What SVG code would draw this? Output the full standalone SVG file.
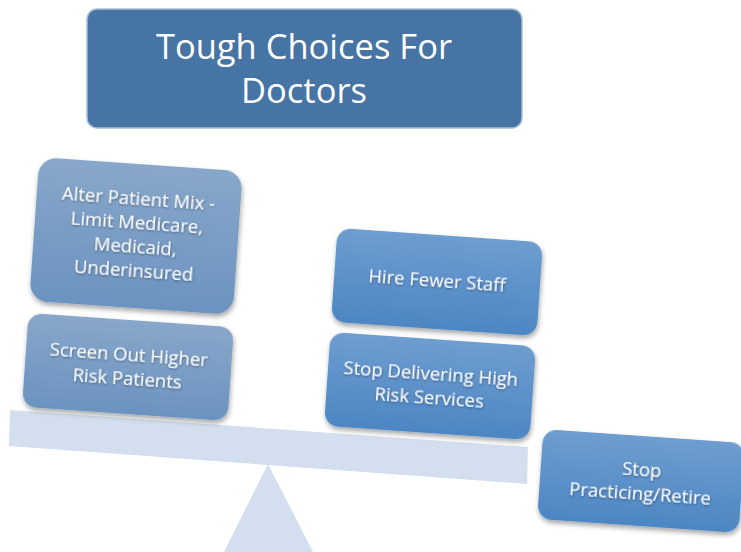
<svg xmlns="http://www.w3.org/2000/svg" width="741" height="552" viewBox="0 0 741 552">
<defs>
<linearGradient id="gL" x1="0" y1="0" x2="0" y2="1"><stop offset="0" stop-color="#88a7ca"/><stop offset="1" stop-color="#6b93bf"/></linearGradient>
<linearGradient id="gR" x1="0" y1="0" x2="0" y2="1"><stop offset="0" stop-color="#6e9dd0"/><stop offset="1" stop-color="#4d86c3"/></linearGradient>
<filter id="sh" x="-10%" y="-10%" width="125%" height="130%"><feDropShadow dx="1" dy="3" stdDeviation="2.5" flood-color="#000" flood-opacity="0.35"/></filter>
<filter id="ts" x="-5%" y="-20%" width="110%" height="150%"><feDropShadow dx="0.5" dy="1" stdDeviation="0.8" flood-color="#000" flood-opacity="0.45"/></filter>
</defs>
<style>
.t{font-family:"Open Sans","Liberation Sans",sans-serif;fill:#fff;text-anchor:middle}
.bt{font-size:18.5px}
.tt{font-size:34.5px}
.beam{fill:#d3dfee}
</style>
<rect width="741" height="552" fill="#fff"/>
<g id="base">
<polygon class="beam" points="268,464 313,552 224,552"/>
<polygon class="beam" points="10,410 528,447 527,484 9,446"/>
</g>
<g id="title">
<rect x="87" y="9" width="435" height="119" rx="10" fill="#4674a4" stroke="#a9bfd9" stroke-width="1.5"/>
<text class="t tt" x="304" y="59">Tough Choices For</text>
<text class="t tt" x="304" y="103">Doctors</text>
</g>
<g id="alter" transform="translate(136,236) rotate(4)">
<rect x="-102" y="-72" width="204" height="144" rx="18" fill="url(#gL)" filter="url(#sh)"/>
<g class="t bt" filter="url(#ts)">
<text x="0" y="-31">Alter Patient Mix -</text>
<text x="0" y="-7">Limit Medicare,</text>
<text x="0" y="17">Medicaid,</text>
<text x="0" y="41">Underinsured</text>
</g>
</g>
<g id="screen" transform="translate(128,367) rotate(4)">
<rect x="-103" y="-47" width="206" height="94" rx="14" fill="url(#gL)" filter="url(#sh)"/>
<g class="t bt" filter="url(#ts)">
<text x="0" y="-6">Screen Out Higher</text>
<text x="0" y="18">Risk Patients</text>
</g>
</g>
<g id="hire" transform="translate(437,282) rotate(4)">
<rect x="-103" y="-47" width="206" height="94" rx="14" fill="url(#gR)" filter="url(#sh)"/>
<g class="t bt" filter="url(#ts)">
<text x="0" y="5">Hire Fewer Staff</text>
</g>
</g>
<g id="stopdeliver" transform="translate(430,386) rotate(4)">
<rect x="-103" y="-47" width="206" height="94" rx="14" fill="url(#gR)" filter="url(#sh)"/>
<g class="t bt" filter="url(#ts)">
<text x="0" y="-6">Stop Delivering High</text>
<text x="0" y="18">Risk Services</text>
</g>
</g>
<g id="retire" transform="translate(641,481) rotate(4)">
<rect x="-101" y="-45" width="202" height="90" rx="14" fill="url(#gR)" filter="url(#sh)"/>
<g class="t bt" filter="url(#ts)">
<text x="0" y="-5">Stop</text>
<text x="0" y="19">Practicing/Retire</text>
</g>
</g>
</svg>
